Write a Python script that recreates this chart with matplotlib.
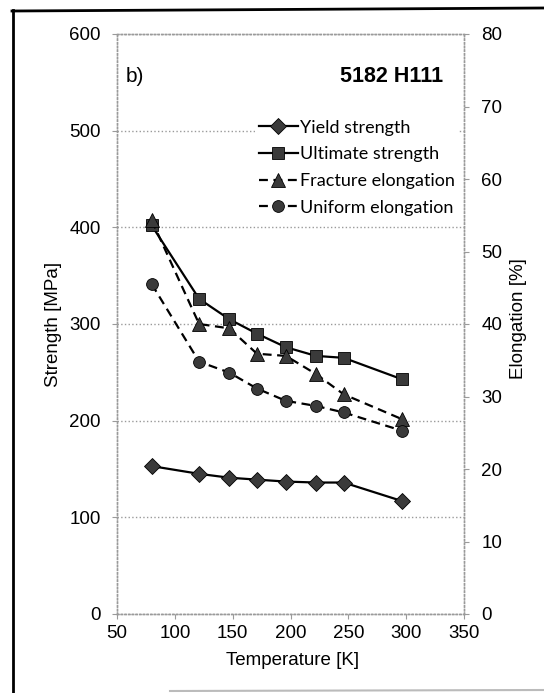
import numpy as np
import matplotlib.pyplot as plt
from matplotlib.lines import Line2D

# Test temperatures [K]
temperature = [80, 121, 147, 171, 196, 222, 246, 296]

# Strength [MPa]
yield_strength = [153, 145, 141, 139, 137, 136, 136, 117]
ultimate_strength = [402, 326, 305, 290, 276, 267, 265, 243]

# Elongation [%]
fracture_elongation = [54.3, 40.0, 39.4, 35.9, 35.6, 33.1, 30.3, 26.9]
uniform_elongation = [45.5, 34.8, 33.3, 31.1, 29.4, 28.7, 27.8, 25.3]

plt.rcParams['font.family'] = ['Liberation Sans', 'DejaVu Sans']

fig = plt.figure(figsize=(5.44, 6.93), dpi=100)
ax = fig.add_axes([117 / 544, 79 / 693, 347 / 544, 580 / 693])
ax2 = ax.twinx()

grid_color = '#9a9a9a'
mark_color = '#3a3a3a'
dash = (0, (4, 2.5))

# Left axis: strength
l1, = ax.plot(temperature, yield_strength, color='black', lw=1.6,
              marker='D', ms=8.5, mfc=mark_color, mec='black', mew=0.6,
              label='Yield strength')
l2, = ax.plot(temperature, ultimate_strength, color='black', lw=1.6,
              marker='s', ms=8.5, mfc=mark_color, mec='black', mew=0.6,
              label='Ultimate strength')

# Right axis: elongation
l3, = ax2.plot(temperature, fracture_elongation, color='black', lw=1.6,
               ls=dash, marker='^', ms=9.5, mfc=mark_color,
               mec='black', mew=0.6, label='Fracture elongation')
l4, = ax2.plot(temperature, uniform_elongation, color='black', lw=1.6,
               ls=dash, marker='o', ms=8.5, mfc=mark_color,
               mec='black', mew=0.6, label='Uniform elongation')

ax.set_xlim(50, 350)
ax.set_ylim(0, 600)
ax2.set_ylim(0, 80)
ax.set_xticks(np.arange(50, 351, 50))
ax.set_yticks(np.arange(0, 601, 100))
ax2.set_yticks(np.arange(0, 81, 10))

ax.yaxis.grid(True, color=grid_color, ls=':', lw=1.0)
ax.set_axisbelow(True)

for a in (ax, ax2):
    for s in a.spines.values():
        s.set_color(grid_color)
        s.set_linestyle(':')
        s.set_linewidth(1.0)
    a.tick_params(labelsize=13.5, color=grid_color, length=3.6, width=0.8)

ax.tick_params(axis='y', pad=8)
ax.tick_params(axis='x', pad=4)
ax2.tick_params(axis='y', pad=9)

ax.set_xlabel('Temperature [K]', fontsize=13.5)
ax.xaxis.set_label_coords(0.505, -0.08)
ax.xaxis.label.set_va('center')
ax.set_ylabel('Strength [MPa]', fontsize=13.5)
ax.yaxis.set_label_coords(-0.183, 0.5)
ax.yaxis.label.set_va('center')
ax2.set_ylabel('Elongation [%]', fontsize=13.5)
ax2.yaxis.set_label_coords(1.156, 0.51)
ax2.yaxis.label.set_va('center')

ax.text(0.025, 0.927, 'b)', transform=ax.transAxes, fontsize=15,
        ha='left', va='center')
ax.text(0.94, 0.927, '5182 H111', transform=ax.transAxes, fontsize=15.5,
        fontweight='bold', ha='right', va='center')

leg = ax2.legend(handles=[l1, l2, l3, l4], loc='upper left',
                 bbox_to_anchor=(255 / 544, 1 - 116 / 693),
                 bbox_transform=fig.transFigure, frameon=True,
                 fancybox=False, edgecolor='none', facecolor='white',
                 framealpha=1, prop={'family': 'Lato', 'size': 13},
                 handlelength=2.2, handletextpad=0.1, labelspacing=0.59,
                 borderpad=0.2, borderaxespad=0)

# Page frame
fig.add_artist(Line2D([13 / 544, 13 / 544], [0, 1 - 10 / 693],
                      transform=fig.transFigure, color='black', lw=2))
fig.add_artist(Line2D([12 / 544, 1], [1 - 11 / 693, 1 - 8 / 693],
                      transform=fig.transFigure, color='black', lw=2))
fig.add_artist(Line2D([170 / 544, 1], [2 / 693, 3 / 693],
                      transform=fig.transFigure, color='#bbbbbb', lw=1.5))

fig.savefig('out.png', dpi=100)
